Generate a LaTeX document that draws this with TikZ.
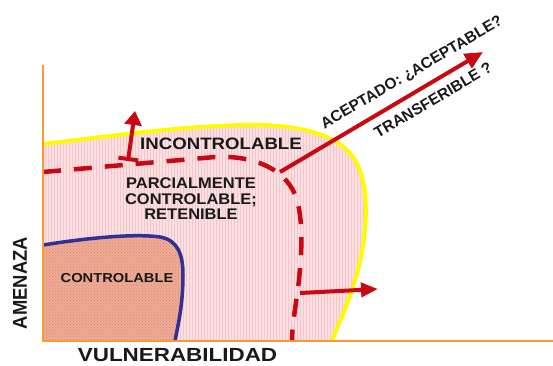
\documentclass[tikz,border=0pt]{standalone}
\usepackage{fontspec}
\setmainfont{Liberation Sans}
\usetikzlibrary{arrows.meta,patterns}
\definecolor{axisor}{RGB}{245,155,55}
\definecolor{zonepink}{RGB}{251,222,224}
\definecolor{stripepink}{RGB}{240,200,205}
\definecolor{zonesalmon}{RGB}{238,172,150}
\definecolor{dotsalmon}{RGB}{222,130,110}
\definecolor{edgeyellow}{RGB}{255,250,0}
\definecolor{riskred}{RGB}{200,8,18}
\definecolor{ctrlblue}{RGB}{48,48,150}
\definecolor{txt}{RGB}{25,25,25}
\tikzset{
  axisline/.style={draw=axisor, line width=2.2pt},
  lbl/.style={text=txt, inner sep=0pt, font=\bfseries},
  redarrow/.style={draw=riskred, line width=4pt},
  dashline/.style={draw=riskred, line width=4.5pt, dash pattern=on 18pt off 13pt, dash phase=0pt},
}
\begin{document}
\begin{tikzpicture}[x=1pt,y=-1pt]
\useasboundingbox (0,0) rectangle (553,365);
% pink region
\path[fill=zonepink, postaction={pattern=vertical lines, pattern color=stripepink}]
  (43,144) .. controls (120,135) and (190,125) .. (255,125)
  .. controls (300,125) and (340,135) .. (355,160)
  .. controls (370,185) and (368,230) .. (358,270)
  .. controls (350,300) and (340,320) .. (332,341) -- (43,341) -- cycle;
% salmon region
\path[fill=zonesalmon, postaction={pattern=crosshatch dots, pattern color=dotsalmon}]
  (43,245) .. controls (100,236) and (140,234) .. (160,237)
  .. controls (178,240) and (183,255) .. (183,275)
  .. controls (183,305) and (178,325) .. (175,341) -- (43,341) -- cycle;
% boundaries
\draw[draw=edgeyellow, line width=4pt] (43,144) .. controls (120,135) and (190,125) .. (255,125)
  .. controls (300,125) and (340,135) .. (355,160)
  .. controls (370,185) and (368,230) .. (358,270)
  .. controls (350,300) and (340,320) .. (332,341);
\draw[draw=ctrlblue, line width=3.5pt] (43,245) .. controls (100,236) and (140,234) .. (160,237)
  .. controls (178,240) and (183,255) .. (183,275)
  .. controls (183,305) and (178,325) .. (175,341);
\draw[dashline] (43,172) -- (215,157) .. controls (255,155) and (288,170) .. (297,200)
  .. controls (303,222) and (302,250) .. (299,280)
  .. controls (296,305) and (292,325) .. (292,341);
% axes
\coordinate (o) at (43,341);
\coordinate (ytop) at (43,65);
\coordinate (xend) at (553,341);
\draw[axisline] (ytop) -- (o) -- (xend);
% arrows
\coordinate (ua) at (128,161);
\coordinate (ub) at (135,111);
\draw[redarrow, {Bar[width=20pt,line width=4pt]}-{Triangle[length=14pt,width=17pt]}] (ua) -- (ub);
\coordinate (ra) at (300,293);
\coordinate (rb) at (378,289);
\draw[redarrow, -{Triangle[length=17pt,width=14pt]}] (ra) -- (rb);
\coordinate (da) at (280,172);
\coordinate (db) at (483,52);
\draw[redarrow, -{Triangle[length=18pt,width=16pt]}] (da) -- (db);
% labels
\node[lbl, font=\bfseries\fontsize{16.5}{16}\selectfont] (incon) at (221,144) {\scalebox{1.13}[1]{INCONTROLABLE}};
\node[lbl, font=\bfseries\fontsize{15.4}{16}\selectfont] (parc) at (191,201) {\scalebox{1.07}[1]{\begin{tabular}{@{}c@{}}PARCIALMENTE\\[-0.6pt] CONTROLABLE;\\[-0.6pt] RETENIBLE\end{tabular}}};
\node[lbl, font=\bfseries\fontsize{13}{13}\selectfont] (ctrl) at (117,278) {\scalebox{1.13}[1]{CONTROLABLE}};
\node[lbl, font=\bfseries\fontsize{20}{20}\selectfont, rotate=90] (amen) at (20,283) {\scalebox{0.92}[1]{AMENAZA}};
\node[lbl, font=\bfseries\fontsize{19}{19}\selectfont] (vuln) at (177.5,355.5) {\scalebox{1.18}[1]{VULNERABILIDAD}};
\node[lbl, font=\bfseries\fontsize{15.5}{15}\selectfont, rotate=30.5] (acep) at (412,73) {ACEPTADO: ¿ACEPTABLE?};
\node[lbl, font=\bfseries\fontsize{15.5}{15}\selectfont, rotate=30.5] (trans) at (433,100) {TRANSFERIBLE ?};
\end{tikzpicture}
\end{document}
